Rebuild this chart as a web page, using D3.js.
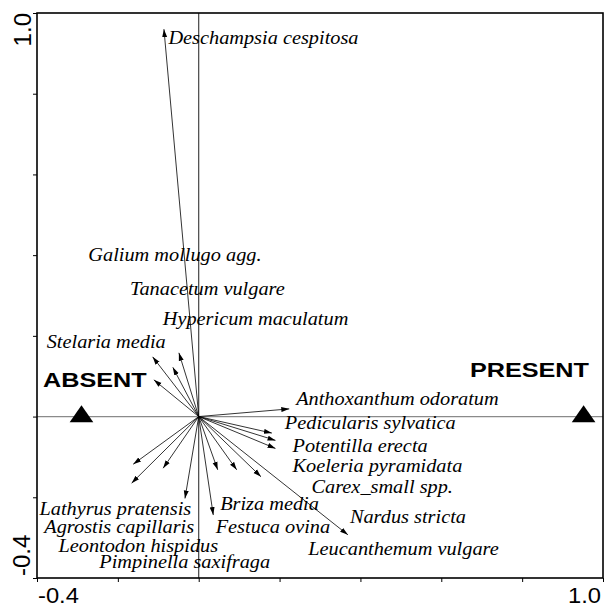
<!DOCTYPE html>
<html>
<head>
<meta charset="utf-8">
<script src="https://cdn.jsdelivr.net/npm/d3@7"></script>
<style>
  body { margin: 0; background: #fff; }
  svg { display: block; }
  .sp { font-family: "Liberation Serif", "Times New Roman", serif; font-style: italic; font-size: 19px; }
  .env { font-family: "Liberation Sans", Arial, sans-serif; font-weight: bold; font-size: 20.5px; }
  .tk { font-family: "Liberation Sans", Arial, sans-serif; font-size: 22px; }
</style>
</head>
<body>
<div id="chart"></div>
<script>
// species scores (arrow tips)
const species = ["Deschampsia cespitosa", "Stelaria media", "Hypericum maculatum", "Tanacetum vulgare", "Galium mollugo agg.",
  "Anthoxanthum odoratum", "Pedicularis sylvatica", "Potentilla erecta", "Koeleria pyramidata",
  "Agrostis capillaris", "Leontodon hispidus", "Pimpinella saxifraga", "Lathyrus pratensis",
  "Briza media", "Nardus stricta", "Carex_small spp.", "Festuca ovina", "Leucanthemum vulgare"];
const spX = [-0.086, -0.114, -0.049, -0.064, -0.111, 0.224, 0.181, 0.190, 0.190,
  -0.162, -0.088, -0.166, -0.034, 0.047, 0.094, 0.154, 0.036, 0.369];
const spY = [0.960, 0.148, 0.158, 0.122, 0.091, 0.019, -0.041, -0.059, -0.079,
  -0.118, -0.128, -0.165, -0.203, -0.132, -0.132, -0.149, -0.244, -0.293];
// where each species name sits (left edge / baseline, in axis units)
const labX = [-0.075, -0.376, -0.089, -0.170, -0.273, 0.241, 0.213, 0.232, 0.232,
  -0.382, -0.347, -0.246, -0.394, 0.053, 0.374, 0.279, 0.042, 0.271];
const labY = [0.923, 0.169, 0.227, 0.301, 0.386, 0.029, -0.031, -0.087, -0.137,
  -0.288, -0.335, -0.376, -0.244, -0.231, -0.263, -0.190, -0.289, -0.343];

// environmental (nominal) variable centroids
const envNames = ["ABSENT", "PRESENT"];
const envX = [-0.290, 0.952];
const envY = [0, 0];
const envLabX = [-0.257, 0.818];
const envLabY = [0.073, 0.097];

const ticks = [-0.4, -0.2, 0, 0.2, 0.4, 0.6, 0.8, 1.0];
const tickLabels = ["-0.4", "1.0"];

const width = 604, height = 608;
const margin = {left: 37, right: 1, top: 13, bottom: 30};

const svg = d3.select("#chart").append("svg")
    .attr("width", width)
    .attr("height", height);

const x = d3.scaleLinear().domain([-0.4, 1.0]).range([margin.left, width - margin.right]);
const y = d3.scaleLinear().domain([-0.4, 1.0]).range([height - margin.bottom, margin.top]);

svg.append("defs").append("marker")
    .attr("id", "head")
    .attr("markerUnits", "userSpaceOnUse")
    .attr("viewBox", "0 -3 8 6")
    .attr("refX", 8).attr("refY", 0)
    .attr("markerWidth", 8).attr("markerHeight", 6)
    .attr("orient", "auto")
  .append("path")
    .attr("d", "M0,-2.5L8,0L0,2.5Z")
    .attr("fill", "#000");

// zero lines
svg.append("line")
    .attr("x1", x(-0.4)).attr("x2", x(1.0))
    .attr("y1", y(0)).attr("y2", y(0))
    .attr("stroke", "#8a8a8a").attr("stroke-width", 1.2);
svg.append("line")
    .attr("x1", x(0)).attr("x2", x(0))
    .attr("y1", y(-0.4)).attr("y2", y(1.0))
    .attr("stroke", "#333").attr("stroke-width", 1.1);

// axes (ticks only), frame drawn separately
svg.append("g")
    .attr("transform", `translate(0,${y(-0.4)})`)
    .call(d3.axisBottom(x).tickValues(ticks).tickSize(4).tickSizeOuter(0).tickFormat(""))
    .call(g => g.select(".domain").remove());
svg.append("g")
    .attr("transform", `translate(${x(-0.4)},0)`)
    .call(d3.axisLeft(y).tickValues(ticks).tickSize(4).tickSizeOuter(0).tickFormat(""))
    .call(g => g.select(".domain").remove());

svg.append("rect")
    .attr("x", x(-0.4)).attr("y", y(1.0))
    .attr("width", x(1.0) - x(-0.4))
    .attr("height", y(-0.4) - y(1.0))
    .attr("fill", "none")
    .attr("stroke", "#000")
    .attr("stroke-width", 1.6);

// tick labels
svg.append("text").attr("class", "tk")
    .attr("transform", `translate(${x(-0.4) + 1},${height - 5}) scale(1.08,1)`)
    .text(tickLabels[0]);
svg.append("text").attr("class", "tk")
    .attr("text-anchor", "end")
    .attr("transform", `translate(${x(1.0) - 2},${height - 5}) scale(1.08,1)`)
    .text(tickLabels[1]);
svg.append("text").attr("class", "tk").style("font-size", "24px")
    .attr("text-anchor", "start")
    .attr("transform", `translate(30,${y(-0.4) - 2}) rotate(-90)`)
    .text(tickLabels[0]);
svg.append("text").attr("class", "tk").style("font-size", "24px")
    .attr("text-anchor", "end")
    .attr("transform", `translate(31,${y(1.0)}) rotate(-90)`)
    .text(tickLabels[1]);

// species arrows
svg.append("g").selectAll("line")
    .data(species)
    .join("line")
    .attr("x1", x(0)).attr("y1", y(0))
    .attr("x2", (d, i) => x(spX[i]))
    .attr("y2", (d, i) => y(spY[i]))
    .attr("stroke", "#000")
    .attr("stroke-width", 0.8)
    .attr("marker-end", "url(#head)");

svg.append("g").selectAll("text")
    .data(species)
    .join("text")
    .attr("class", "sp")
    .attr("transform", (d, i) => `translate(${x(labX[i])},${y(labY[i])}) scale(1.07,1)`)
    .text(d => d);

// environmental centroids
svg.append("g").selectAll("path")
    .data(envNames)
    .join("path")
    .attr("d", d3.symbol(d3.symbolTriangle, 200))
    .attr("transform", (d, i) => `translate(${x(envX[i])},${y(envY[i])}) scale(1.1,0.92)`)
    .attr("fill", "#000");

svg.append("g").selectAll("text")
    .data(envNames)
    .join("text")
    .attr("class", "env")
    .attr("text-anchor", "middle")
    .attr("transform", (d, i) => `translate(${x(envLabX[i])},${y(envLabY[i])}) scale(1.23,1)`)
    .text(d => d);
</script>
</body>
</html>
